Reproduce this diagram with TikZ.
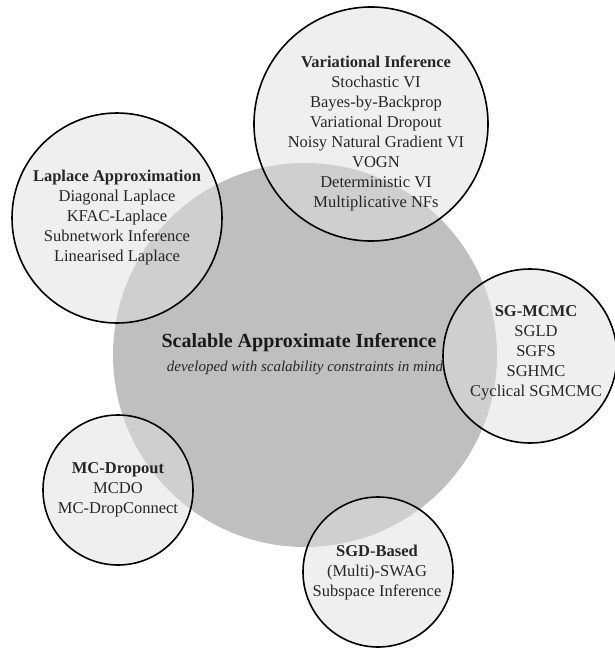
\documentclass[tikz,border=0pt]{standalone}
\usepackage{fontspec}
\setmainfont{Liberation Serif}

\begin{document}
\begin{tikzpicture}[x=1pt, y=-1pt,
    core/.style={circle, fill=black!25, inner sep=0pt, minimum size=#1},
    family/.style={circle, draw=black, line width=1.6pt, fill=black!12, fill opacity=0.5, inner sep=0pt, minimum size=#1},
    methods/.style={align=center, font=\fontsize{16.5}{20}\selectfont, text=black!85}]

    % page frame
    \useasboundingbox (0,0) rectangle (615,651);

    % the big circle in the middle
    \node[core=384pt] (core) at (305,355) {};

    % the families of methods round it
    \node[family=234pt] (vi) at (371,124) {};
    \node[family=210pt] (laplace) at (117,218) {};
    \node[family=174pt] (sgmcmc) at (530,356) {};
    \node[family=150pt] (dropout) at (118,490) {};
    \node[family=150pt] (sgd) at (378,572) {};

    % texts
    \node[font=\fontsize{20}{24}\selectfont\bfseries, text=black!90] (title) at (299,343) {Scalable Approximate Inference};
    \node[font=\fontsize{15}{18}\selectfont\itshape, text=black!85] (subtitle) at (305,368) {developed with scalability constraints in mind};

    \node[methods] (vitext) at (376,133) {\textbf{Variational Inference}\\Stochastic VI\\Bayes-by-Backprop\\Variational Dropout\\Noisy Natural Gradient VI\\VOGN\\Deterministic VI\\Multiplicative NFs};
    \node[methods] (laplacetext) at (117,218) {\textbf{Laplace Approximation}\\Diagonal Laplace\\KFAC-Laplace\\Subnetwork Inference\\Linearised Laplace};
    \node[methods] (sgmcmctext) at (536,353) {\textbf{SG-MCMC}\\SGLD\\SGFS\\SGHMC\\Cyclical SGMCMC};
    \node[methods] (dropouttext) at (118,490) {\textbf{MC-Dropout}\\MCDO\\MC-DropConnect};
    \node[methods] (sgdtext) at (377,573) {\textbf{SGD-Based}\\(Multi)-SWAG\\Subspace Inference};

\end{tikzpicture}
\end{document}
